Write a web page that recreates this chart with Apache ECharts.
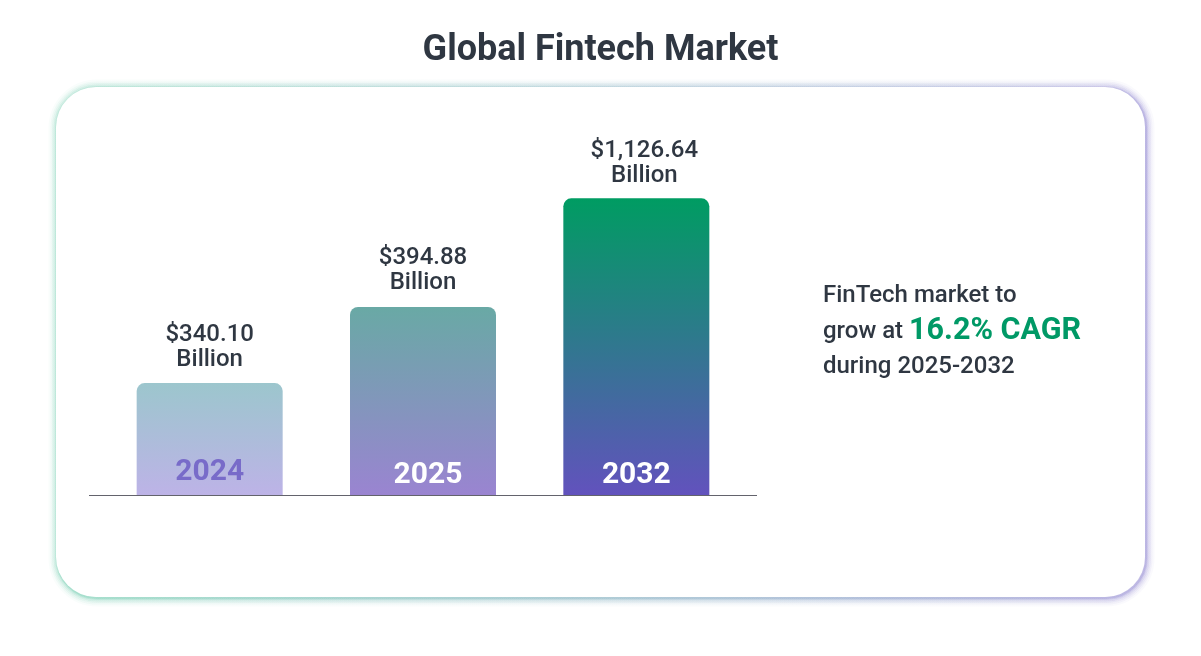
<!DOCTYPE html>
<html><head><meta charset="utf-8">
<style>html,body{margin:0;padding:0;background:#fff}#c{width:1201px;height:656px}</style>
<script src="https://cdn.jsdelivr.net/npm/echarts@6/dist/echarts.min.js"></script>
</head><body><div id="c"></div>
<script>
const categories = ['2024', '2025', '2032'];
// Stated market sizes are labels; the source bars are not drawn to scale, so heights are read from the picture.
const valueLabels = ['$340.10', '$394.88', '$1,126.64'];
const barValues = [425, 714, 1126.64];
const title = 'Global Fintech Market';
const gradients = [
  ['#9cc6cd', '#bdb3e7'],
  ['#69a9a5', '#9a84d1'],
  ['#009c62', '#6252bd']
];
const font = 'Roboto';
const ink = '#2f3742';
const chart = echarts.init(document.getElementById('c'), null, {renderer: 'canvas'});
const cardShape = {x: 56, y: 87, width: 1089, height: 510, r: 40};
const glow = [[17, 0.025], [13, 0.04], [10, 0.05], [7, 0.07], [4, 0.1], [2, 0.12]].map(([w, a]) => ({
  type: 'rect', z: -4, silent: true, x: 1, y: 1, shape: cardShape,
  style: {
    fill: 'none', lineWidth: w,
    stroke: new echarts.graphic.LinearGradient(0, 0, 1, 0, [
      {offset: 0, color: `rgba(0,165,110,${a})`},
      {offset: 1, color: `rgba(98,82,189,${a * 1.3})`}
    ])
  }
}));
chart.setOption({
  animation: false,
  backgroundColor: '#fff',
  title: {
    text: title, left: 'center', top: 28,
    textStyle: {fontFamily: font, fontSize: 36, fontWeight: 700, color: ink}
  },
  grid: {left: 103, width: 640, top: 100, height: 395},
  xAxis: {
    type: 'category', data: categories, z: 5,
    axisLine: {show: false}, axisTick: {show: false},
    axisLabel: {
      margin: -20, verticalAlign: 'middle',
      formatter: v => v === '2024' ? `{a|${v}}` : v === '2025' ? `{b|${v}}` : `{c|${v}}`,
      rich: {
        a: {fontFamily: font, fontSize: 30, fontWeight: 700, color: '#786bc9', padding: [0, 0, 6, 0]},
        b: {fontFamily: font, fontSize: 30, fontWeight: 700, color: '#fff', padding: [0, 0, 0, 10]},
        c: {fontFamily: font, fontSize: 30, fontWeight: 700, color: '#fff'}
      }
    }
  },
  yAxis: {type: 'value', min: 0, max: 1500, show: false},
  graphic: [
    ...glow,
    {type: 'rect', z: -2, silent: true, shape: cardShape, style: {fill: '#fff'}},
    {type: 'line', z: 10, silent: true, shape: {x1: 89, y1: 495.5, x2: 757, y2: 495.5},
      style: {stroke: '#63636c', lineWidth: 1}},
    {type: 'text', z: 10, silent: true, x: 823, y: 278.5, style: {
      text: '{t|FinTech market to}\n{t|grow at }{g|16.2% CAGR}\n{t|during 2025-2032}',
      rich: {
        t: {fontFamily: font, fontSize: 24, fontWeight: 500, fill: ink, lineHeight: 35.5},
        g: {fontFamily: font, fontSize: 30.5, fontWeight: 700, fill: '#009966', lineHeight: 35.5}
      }
    }}
  ],
  series: [{
    type: 'bar', barWidth: 146,
    data: barValues.map((v, i) => ({
      value: v,
      label: {offset: i === 2 ? [8, 1] : [0, 0]},
      itemStyle: {
        borderRadius: [8, 8, 0, 0],
        color: new echarts.graphic.LinearGradient(0, 0, 0, 1, [
          {offset: 0, color: gradients[i][0]}, {offset: 1, color: gradients[i][1]}
        ])
      }
    })),
    label: {
      show: true, position: 'top', distance: 11,
      formatter: p => valueLabels[p.dataIndex] + '\nBillion',
      fontFamily: font, fontSize: 24, fontWeight: 500, color: ink, lineHeight: 25, align: 'center'
    }
  }]
});
</script></body></html>
